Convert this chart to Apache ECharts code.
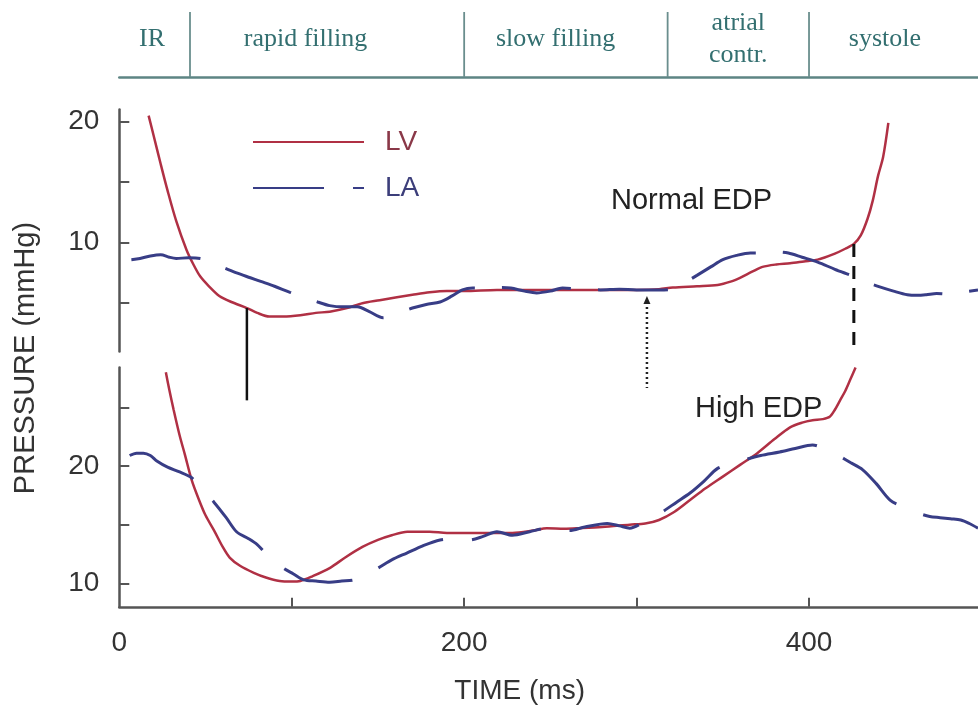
<!DOCTYPE html>
<html>
<head>
<meta charset="utf-8">
<script src="https://cdn.jsdelivr.net/npm/echarts@6/dist/echarts.min.js"></script>
<style>
  html, body { margin: 0; padding: 0; background: #fff; }
  #chart { width: 978px; height: 711px; }
</style>
</head>
<body>
<div id="chart"></div>
<script>
// ---------- data ----------
// Normal EDP panel (upper)
const timeLVNormal = [17,20,24,28,33,39,43,47,52,58,65,74,80,87,95,105,114,122,132,141,151,161,170,180,190,200,219,240,257,280,300,313,321,335,347,355,360,367,373,381,389,397,405,415,421,426,430,434,437,440,443,446];
const lvNormal     = [20.5,18.8,16.5,14.3,11.8,9.4,8.2,7.2,6.4,5.6,5.1,4.6,4.2,3.9,3.9,4.0,4.2,4.3,4.6,5.0,5.25,5.5,5.7,5.9,6.0,6.0,6.1,6.1,6.1,6.1,6.1,6.15,6.3,6.4,6.5,6.8,7.1,7.6,8.0,8.2,8.3,8.45,8.6,9.1,9.5,9.9,10.6,12.0,13.5,15.5,17.1,19.9];
const timeLANormal = [7,12,18,24,29,33,40,47,54,61,68,76,82,90,99,107,115,122,130,138,145,153,162,170,178,186,193,199,205,215,222,227,235,242,250,257,268,279,290,300,313,322,328,335,343,350,358,366,372,380,388,396,405,415,426,434,441,449,457,463,468,474,480,488,498];
const laNormal     = [8.6,8.7,8.9,9.0,8.8,8.7,8.75,8.7,8.3,7.9,7.5,7.1,6.8,6.4,5.9,5.5,5.1,4.8,4.7,4.7,4.3,3.8,4.2,4.6,4.9,5.1,5.6,6.1,6.25,6.2,6.3,6.25,6.0,5.85,6.0,6.25,6.15,6.1,6.15,6.1,6.1,6.2,6.7,7.3,8.0,8.6,8.95,9.15,9.15,9.25,9.15,8.8,8.4,7.8,7.2,6.7,6.35,6.0,5.7,5.65,5.7,5.8,5.75,5.9,6.1];
// High EDP panel (lower)
const timeLVHigh = [27,29,31.5,35,38,42,46,50,55,60,64,70,78,85,93,100,105,112,122,131,141,150,158,167,180,190,199,210,228,240,248,258,267,280,296,305,313,322,331,340,350,360,370,380,389,396,402,408,412,415,418,421,424,427];
const lvHigh     = [28.0,26.5,24.8,22.6,21.0,18.8,17.2,15.8,14.5,13.1,12.2,11.5,10.9,10.5,10.2,10.15,10.2,10.6,11.3,12.2,13.1,13.7,14.1,14.4,14.4,14.3,14.3,14.3,14.3,14.5,14.7,14.65,14.7,14.8,15.0,15.1,15.4,16.1,17.1,18.1,19.1,20.1,21.1,22.3,23.3,23.7,23.9,24.0,24.2,24.8,25.6,26.4,27.4,28.4];
const timeLAHigh = [6,10,14,18,22,28,35,42,48,55,62,68,75,80,84,90,95,101,107,114,122,129,136,143,150,158,167,176,186,195,203,211,219,228,238,248,255,261,270,283,290,296,304,315,323,331,339,347,355,362,372,383,392,402,410,417,424,431,439,447,455,463,470,476,482,488,493,498];
const laHigh     = [20.9,21.1,21.1,20.9,20.4,19.9,19.5,19.0,18.0,16.9,15.6,14.4,13.8,13.3,12.7,11.9,11.3,10.8,10.3,10.2,10.1,10.2,10.3,10.8,11.3,12.0,12.6,13.2,13.7,13.8,13.7,14.0,14.4,14.1,14.4,14.7,14.6,14.5,14.8,15.1,14.9,14.7,15.2,16.1,16.9,17.7,18.7,19.8,20.2,20.5,20.9,21.2,21.5,21.8,21.4,20.9,20.3,19.7,18.5,17.1,16.5,16.0,15.7,15.6,15.5,15.4,15.1,14.7];
// cardiac phases (top band)
const phaseBoundaries = [41, 200, 318, 400];
const phaseLabels     = ['IR', 'rapid filling', 'slow filling', 'atrial\ncontr.', 'systole'];
const phaseLabelTimes = [19, 108, 253, 359, 444];
// vertical EDP markers
const markerTime        = [74, 306, 426];
const markerTopValue    = [4.6, 5.6, 9.9];   // on upper panel
const markerBottomValue = [25.6, 26.65, 1.3];
const markerBottomPanel = [1, 1, 0];
// axes ticks / labels
const xTickValues  = [100, 200, 300, 400];
const xLabelValues = [0, 200, 400];
const upperYTicks  = [5, 10, 15, 20];
const upperYLabels = [10, 20];
const lowerYTicks  = [10, 15, 20, 25];
const lowerYLabels = [10, 20];

// ---------- styling ----------
const RED = '#b03044';
const BLUE = '#383d86';
const AXIS = '#555';
const TEAL = '#336f70';
const SANS = '"Liberation Sans", Arial, sans-serif';
const SERIF = '"Liberation Serif", "Times New Roman", serif';
const zip = (a, b) => a.map((t, i) => [t, b[i]]);

const chart = echarts.init(document.getElementById('chart'), null, { renderer: 'canvas' });

function yAxisCfg(grid, min, max, ticks, labels) {
  return {
    type: 'value', gridIndex: grid, min: min, max: max,
    axisLine: { show: true, lineStyle: { color: AXIS, width: 2.5 } },
    axisTick: { show: true, inside: true, length: 10, customValues: ticks, lineStyle: { color: AXIS, width: 2 } },
    axisLabel: { show: true, customValues: labels, margin: 20, fontSize: 28, fontFamily: SANS, color: '#333' },
    splitLine: { show: false }
  };
}

const option = {
  animation: false,
  backgroundColor: '#fff',
  grid: [
    { left: 119.3, right: 0, top: 109.6, height: 242, outerBoundsMode: 'none' },
    { left: 119.3, right: 0, top: 367.5, height: 239.3, outerBoundsMode: 'none' },
    { left: 119.3, right: 0, top: 12, height: 65, outerBoundsMode: 'none' }
  ],
  xAxis: [
    { type: 'value', gridIndex: 0, min: 0, max: 498, show: false },
    {
      type: 'value', gridIndex: 1, min: 0, max: 498,
      axisLine: { show: true, onZero: false, lineStyle: { color: AXIS, width: 2.5 } },
      axisTick: { show: true, inside: true, length: 9, customValues: xTickValues, lineStyle: { color: AXIS, width: 2 } },
      axisLabel: { show: true, customValues: xLabelValues, margin: 22, fontSize: 28, fontFamily: SANS, color: '#333' },
      splitLine: { show: false },
      name: 'TIME (ms)', nameLocation: 'middle', nameGap: 70,
      nameTextStyle: { fontSize: 28, fontFamily: SANS, color: '#333', padding: [0, 58, 0, 0] }
    },
    {
      type: 'value', gridIndex: 2, min: 0, max: 498,
      axisLine: { show: true, onZero: false, lineStyle: { color: '#5d8584', width: 2.5 } },
      axisTick: { show: false }, axisLabel: { show: false }, splitLine: { show: false }
    }
  ],
  yAxis: [
    yAxisCfg(0, 1, 21, upperYTicks, upperYLabels),
    yAxisCfg(1, 8, 28.4, lowerYTicks, lowerYLabels),
    { type: 'value', gridIndex: 2, min: 0, max: 1, show: false }
  ],
  legend: {
    orient: 'vertical', left: 252, top: 128, padding: 0,
    itemWidth: 111, itemHeight: 28, itemGap: 18,
    selectedMode: false,
    itemStyle: { opacity: 0 },
    textStyle: { fontSize: 28, fontFamily: SANS, padding: [0, 0, 0, 16] },
    data: [
      { name: 'LV', textStyle: { color: '#8a3848' } },
      { name: 'LA', textStyle: { color: '#3c3e7a' }, lineStyle: { type: [71, 29] } }
    ]
  },
  series: [
    { name: 'LV', type: 'line', xAxisIndex: 0, yAxisIndex: 0, data: zip(timeLVNormal, lvNormal),
      smooth: 0.3, symbol: 'none', clip: false, z: 3,
      lineStyle: { color: RED, width: 2.5 }, itemStyle: { color: RED } },
    { name: 'LA', type: 'line', xAxisIndex: 0, yAxisIndex: 0, data: zip(timeLANormal, laNormal),
      smooth: 0.3, symbol: 'none', clip: false, z: 4,
      lineStyle: { color: BLUE, width: 3, type: [70, 27], dashOffset: 0 }, itemStyle: { color: BLUE } },
    { name: 'LV', type: 'line', xAxisIndex: 1, yAxisIndex: 1, data: zip(timeLVHigh, lvHigh),
      smooth: 0.3, symbol: 'none', clip: false, z: 3,
      lineStyle: { color: RED, width: 2.5 }, itemStyle: { color: RED } },
    { name: 'LA', type: 'line', xAxisIndex: 1, yAxisIndex: 1, data: zip(timeLAHigh, laHigh),
      smooth: 0.3, symbol: 'none', clip: false, z: 4,
      lineStyle: { color: BLUE, width: 3, type: [71, 29], dashOffset: 0 }, itemStyle: { color: BLUE } },
    { type: 'custom', xAxisIndex: 2, yAxisIndex: 2, silent: true,
      data: phaseBoundaries.map(t => [t]),
      renderItem: function (params, api) {
        const top = api.coord([api.value(0), 1]);
        const bot = api.coord([api.value(0), 0]);
        return { type: 'line', shape: { x1: top[0], y1: top[1], x2: bot[0], y2: bot[1] },
                 style: { stroke: '#6a8e8d', lineWidth: 1.8 } };
      } },
    { type: 'custom', xAxisIndex: 2, yAxisIndex: 2, silent: true,
      data: phaseLabelTimes.map((t, i) => [t, i]),
      renderItem: function (params, api) {
        const p = api.coord([api.value(0), 0.58]);
        return { type: 'text', x: p[0], y: p[1],
                 style: { text: phaseLabels[api.value(1)], fill: TEAL, fontSize: 26, fontFamily: SERIF,
                          align: 'center', verticalAlign: 'middle', lineHeight: 32 } };
      } }
  ],
  graphic: [
    { type: 'text', x: 26, y: 358, rotation: Math.PI / 2,
      style: { text: 'PRESSURE (mmHg)', fill: '#333', fontSize: 29, fontFamily: SANS, align: 'center', verticalAlign: 'middle' } },
    { type: 'text', x: 611, y: 201,
      style: { text: 'Normal EDP', fill: '#222', fontSize: 29, fontFamily: SANS, align: 'left', verticalAlign: 'middle' } },
    { type: 'text', x: 695, y: 409,
      style: { text: 'High EDP', fill: '#222', fontSize: 29, fontFamily: SANS, align: 'left', verticalAlign: 'middle' } }
  ]
};

chart.setOption(option);

// vertical markers linking the two panels, positioned through the axes' scales
const markerGraphics = [];
markerTime.forEach((t, i) => {
  const top = chart.convertToPixel({ gridIndex: 0 }, [t, markerTopValue[i]]);
  const bot = chart.convertToPixel({ gridIndex: markerBottomPanel[i] }, [t, markerBottomValue[i]]);
  let style;
  if (i === 0) style = { stroke: '#111', lineWidth: 2.5 };
  else if (i === 1) style = { stroke: '#222', lineWidth: 2.5, lineDash: [2, 3] };
  else style = { stroke: '#111', lineWidth: 3, lineDash: [13, 9] };
  markerGraphics.push({ type: 'line', z: 10, shape: { x1: top[0], y1: i === 1 ? top[1] + 6 : top[1], x2: bot[0], y2: bot[1] }, style: style });
  if (i === 1) {
    markerGraphics.push({ type: 'polygon', z: 10,
      shape: { points: [[top[0], top[1]], [top[0] - 3.5, top[1] + 8], [top[0] + 3.5, top[1] + 8]] },
      style: { fill: '#222' } });
  }
});
chart.setOption({ graphic: option.graphic.concat(markerGraphics) });
</script>
</body>
</html>
